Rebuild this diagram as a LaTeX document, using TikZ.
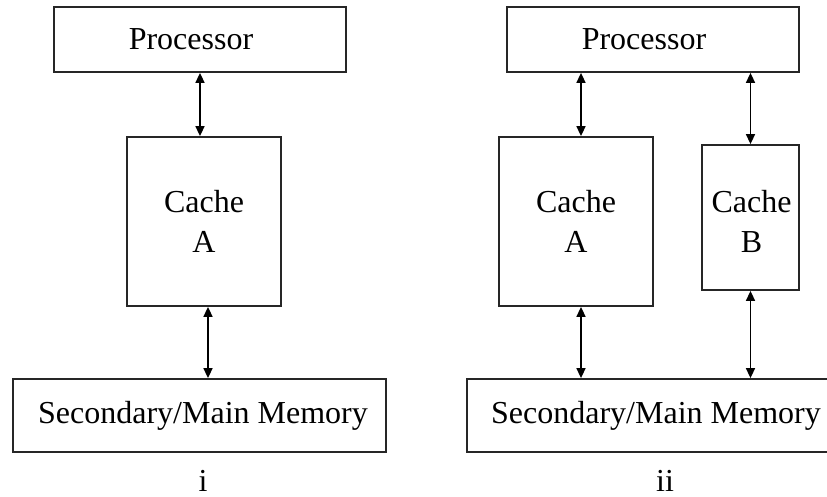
\documentclass[tikz,border=0pt]{standalone}
\usepackage{fontspec}
\setmainfont{Liberation Serif}
\usetikzlibrary{arrows.meta}
\begin{document}
\begin{tikzpicture}[x=1pt,y=-1pt,
  box/.style={draw=black!85,line width=1.8pt,rectangle,inner sep=0pt,align=center,font=\fontsize{32}{40}\selectfont},
  arr/.style={line width=1.6pt,{Triangle[length=10pt,width=9pt]}-{Triangle[length=10pt,width=9pt]}},
  lbl/.style={font=\fontsize{32}{40}\selectfont,inner sep=0pt,align=center}]
\useasboundingbox (0,0) rectangle (827,497);
\fill[white] (0,0) rectangle (827,497);
\clip (0,0) rectangle (827,497);
% left diagram
\node[box,minimum width=292pt,minimum height=65pt] (procL) at (200,39.5) {Processor\hspace*{18pt}};
\node[box,minimum width=154pt,minimum height=169pt] (cacheL) at (204,221.5) {Cache\\A};
\node[box,minimum width=373pt,minimum height=73pt] (memL) at (199.5,415.5) {\hspace*{7pt}Secondary/Main Memory};
\node[lbl,anchor=base] (iL) at (203,491) {i};
\draw[arr] (procL.south) -- (procL.south |- cacheL.north);
\draw[arr] ([xshift=4pt]cacheL.south) -- ([xshift=4pt]cacheL.south |- memL.north);
% right diagram
\node[box,minimum width=292pt,minimum height=65pt] (procR) at (653,39.5) {Processor\hspace*{18pt}};
\node[box,minimum width=154pt,minimum height=169pt] (cacheA) at (576,221.5) {Cache\\A};
\node[box,minimum width=97pt,minimum height=145pt] (cacheB) at (750.5,217.5) {};
\node[lbl] (cacheBtxt) at (751.5,221.5) {Cache\\B};
\node[box,minimum width=373pt,minimum height=73pt] (memR) at (653.5,415.5) {\hspace*{5pt}Secondary/Main Memory};
\node[lbl,anchor=base] (iiR) at (665,491) {ii};
\draw[arr] ([xshift=5pt]cacheA.north |- procR.south) -- ([xshift=5pt]cacheA.north);
\draw[arr] (cacheB.north |- procR.south) -- (cacheB.north);
\draw[arr] ([xshift=5pt]cacheA.south) -- ([xshift=5pt]cacheA.south |- memR.north);
\draw[arr] (cacheB.south) -- (cacheB.south |- memR.north);
\end{tikzpicture}
\end{document}
